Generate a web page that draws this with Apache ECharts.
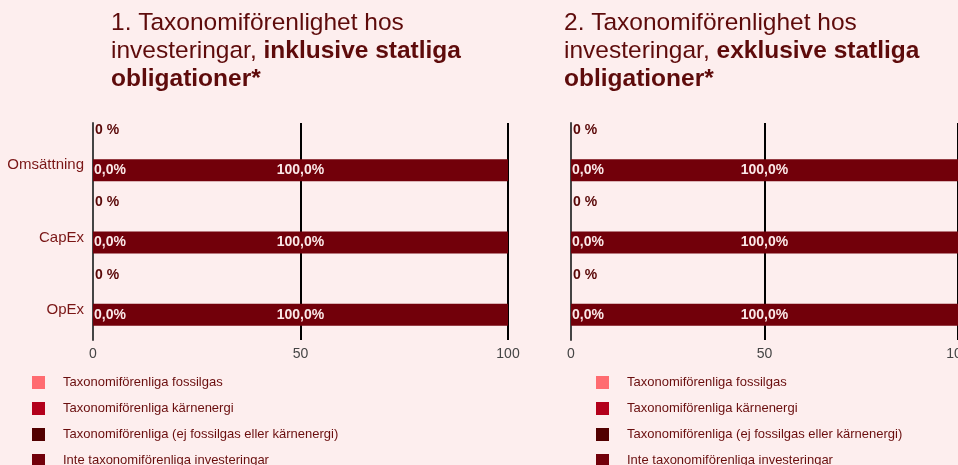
<!DOCTYPE html>
<html>
<head>
<meta charset="utf-8">
<script src="https://cdn.jsdelivr.net/npm/echarts@6/dist/echarts.min.js"></script>
<style>
html,body{margin:0;padding:0;background:#fdeeee;}
#c{width:958px;height:465px;}
</style>
</head>
<body>
<div id="c"></div>
<script>
const categories = ['Omsättning', 'CapEx', 'OpEx'];
const seriesNames = [
  'Taxonomiförenliga fossilgas',
  'Taxonomiförenliga kärnenergi',
  'Taxonomiförenliga (ej fossilgas eller kärnenergi)',
  'Inte taxonomiförenliga investeringar'
];
// Chart 1: inklusive statliga obligationer
const incFossil = [0, 0, 0];
const incNuclear = [0, 0, 0];
const incAligned = [0, 0, 0];
const incNotAligned = [100, 100, 100];
// Chart 2: exklusive statliga obligationer
const excFossil = [0, 0, 0];
const excNuclear = [0, 0, 0];
const excAligned = [0, 0, 0];
const excNotAligned = [100, 100, 100];
const xTicks = [0, 50, 100];

const colors = ['#ff6b70', '#b3001b', '#520000', '#72000a'];
const pct1 = p => p.value.toFixed(1).replace('.', ',') + '%';
const pct0 = p => p.value + ' %';

function makeSeries(idx, fossil, nuclear, aligned, notAligned) {
  return [
    {name: seriesNames[0], type: 'bar', xAxisIndex: idx, yAxisIndex: idx, stack: 'top' + idx,
     barWidth: 2, barGap: '1000%', data: fossil, itemStyle: {color: colors[0]}},
    {name: seriesNames[1], type: 'bar', xAxisIndex: idx, yAxisIndex: idx, stack: 'top' + idx,
     barWidth: 2, data: nuclear, itemStyle: {color: colors[1]},
     label: {show: true, position: 'insideLeft', distance: 2, offset: [0, -8], formatter: pct0,
       color: '#5a0808', fontWeight: 'bold', fontSize: 14, fontFamily: 'Liberation Sans'}},
    {name: seriesNames[2], type: 'bar', xAxisIndex: idx, yAxisIndex: idx, stack: 'bot' + idx,
     barWidth: 22, data: aligned, itemStyle: {color: colors[2]},
     label: {show: true, position: 'insideLeft', distance: 1, formatter: pct1,
       color: '#fbe8e8', fontWeight: 'bold', fontSize: 14, fontFamily: 'Liberation Sans'}},
    {name: seriesNames[3], type: 'bar', xAxisIndex: idx, yAxisIndex: idx, stack: 'bot' + idx,
     barWidth: 22, data: notAligned, itemStyle: {color: colors[3]},
     label: {show: true, position: 'inside', formatter: pct1,
       color: '#fbe8e8', fontWeight: 'bold', fontSize: 14, fontFamily: 'Liberation Sans'}}
  ];
}

function makeX(idx) {
  return {type: 'value', gridIndex: idx, min: xTicks[0], max: xTicks[xTicks.length - 1], interval: xTicks[1] - xTicks[0],
    axisLine: {show: false}, axisTick: {show: false},
    splitLine: {show: true, lineStyle: {color: '#000', width: 2}},
    axisLabel: {color: '#444', fontSize: 14, margin: 7, fontFamily: 'Liberation Sans'}};
}
function makeY(idx, showLabels) {
  return {type: 'category', gridIndex: idx, data: categories, inverse: true,
    axisLine: {show: true, lineStyle: {color: '#444', width: 2}}, axisTick: {show: false},
    axisLabel: {show: showLabels, color: '#7a1616', fontSize: 15, margin: 9,
      formatter: v => '{a|' + v + '}',
      rich: {a: {fontSize: 15, color: '#7a1616', fontFamily: 'Liberation Sans', padding: [12, 0, 0, 0]}}}};
}
function makeLegend(left, textLeft) {
  return {orient: 'vertical', left: left, top: 376, height: 200, padding: 0, itemWidth: 13, itemHeight: 13, itemGap: 13,
    icon: 'rect', data: seriesNames, selectedMode: false,
    textStyle: {color: '#6a0e0e', fontSize: 13, lineHeight: 13, padding: [0, 0, 0, textLeft], fontFamily: 'Liberation Sans'}};
}
function makeTitle(left, num, bold) {
  return {left: left, top: 4,
    text: '{n|' + num + '. Taxonomiförenlighet hos}\n{n|investeringar, }{b|' + bold + '}\n{b|obligationer*}',
    textStyle: {rich: {
      n: {fontSize: 24.5, color: '#5e0b0b', fontWeight: 'normal', fontFamily: 'Liberation Sans', lineHeight: 28},
      b: {fontSize: 24.5, color: '#5e0b0b', fontWeight: 'bold', fontFamily: 'Liberation Sans', lineHeight: 28}
    }}};
}

const chart = echarts.init(document.getElementById('c'), null, {renderer: 'canvas'});
chart.setOption({
  backgroundColor: '#fdeeee',
  animation: false,
  title: [makeTitle(106, 1, 'inklusive statliga'), makeTitle(559, 2, 'exklusive statliga')],
  legend: [makeLegend(32, 13), makeLegend(596, 13)],
  grid: [
    {left: 93, top: 123, width: 415, height: 217, outerBoundsMode: 'none', containLabel: false},
    {left: 571, top: 123, width: 387, height: 217, outerBoundsMode: 'none', containLabel: false}
  ],
  xAxis: [makeX(0), makeX(1)],
  yAxis: [makeY(0, true), makeY(1, false)],
  series: [].concat(
    makeSeries(0, incFossil, incNuclear, incAligned, incNotAligned),
    makeSeries(1, excFossil, excNuclear, excAligned, excNotAligned)
  )
});
</script>
</body>
</html>
